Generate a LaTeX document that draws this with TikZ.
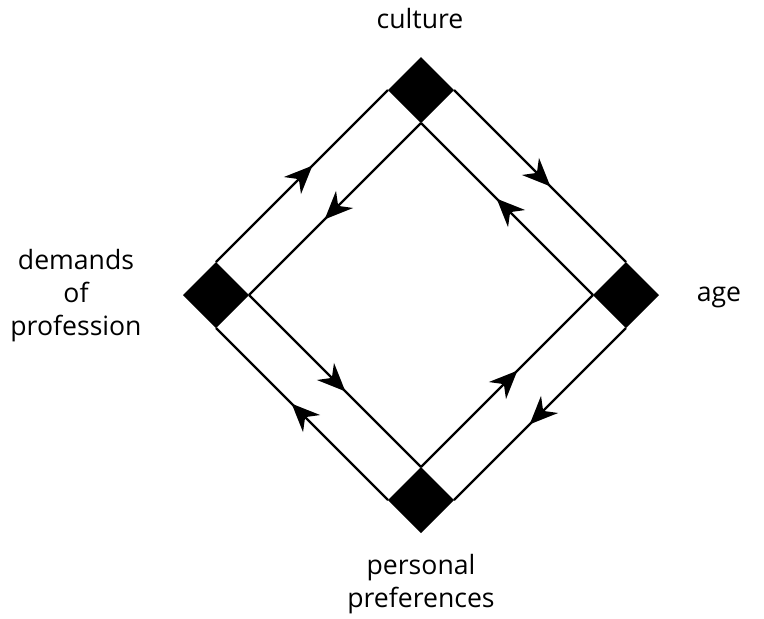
\documentclass[tikz,border=0pt]{standalone}
\usepackage{fontspec}
\setmainfont{Open Sans}
\usetikzlibrary{shapes.geometric,decorations.markings,arrows.meta}

\begin{document}
\begin{tikzpicture}[x=0.5pt, y=-0.5pt,
        blk/.style={diamond, fill=black, aspect=1, minimum width=33pt, minimum height=33pt, inner sep=0pt, outer sep=0pt},
        flow/.style={line width=1.1pt, postaction={decorate}, decoration={markings, mark=at position 0.56 with {\arrow{Stealth[length=14pt, width=12pt, inset=4.5pt]}}}},
        lbl/.style={font=\fontsize{13.3}{16.5}\selectfont, align=center, inner sep=0pt}
    ]
    \useasboundingbox (0,0) rectangle (764,618);

    % the four corner blocks
    \node[blk] (cul) at (421,90) {};
    \node[blk] (dem) at (216,295) {};
    \node[blk] (age) at (626,295) {};
    \node[blk] (per) at (421,500) {};

    % outer loop, clockwise
    \draw[flow] (dem.north) -- (cul.west);
    \draw[flow] (cul.east) -- (age.north);
    \draw[flow] (age.south) -- (per.east);
    \draw[flow] (per.west) -- (dem.south);

    % inner loop, anticlockwise
    \draw[flow] (cul.south) -- (dem.east);
    \draw[flow] (dem.east) -- (per.north);
    \draw[flow] (per.north) -- (age.west);
    \draw[flow] (age.west) -- (cul.south);

    % labels
    \node[lbl, anchor=base] (culture) at (420,28) {culture};
    \node[lbl, anchor=base] (agetxt) at (719,301) {age};
    \node[lbl] (demtxt) at (76,296) {demands\\of\\profession};
    \node[lbl] (pertxt) at (421,584) {personal\\preferences};
\end{tikzpicture}
\end{document}
